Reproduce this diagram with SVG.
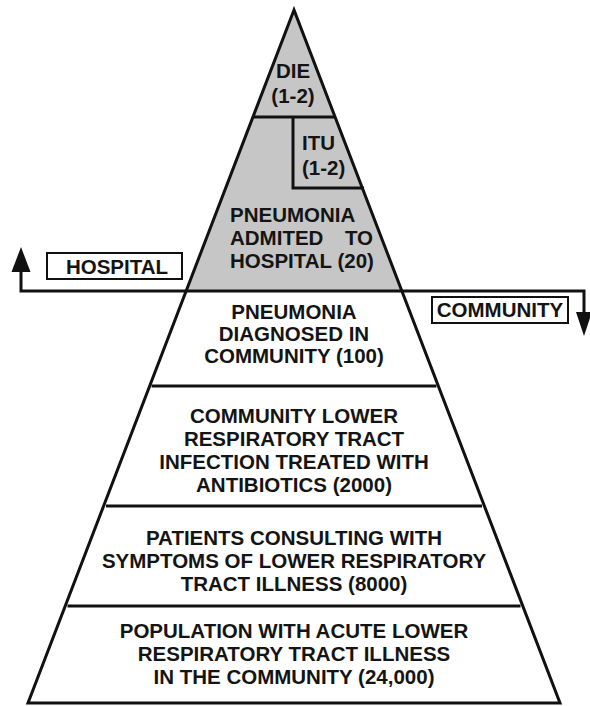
<svg xmlns="http://www.w3.org/2000/svg" width="590" height="706" viewBox="0 0 590 706">
<defs>
<style>
.t{font-family:"Liberation Sans",Arial,sans-serif;font-weight:bold;font-size:20.5px;fill:#141414;text-anchor:middle}
.l{text-anchor:start}
.e{text-anchor:end}
.ln{stroke:#111;stroke-width:3;fill:none}
.box{stroke:#111;stroke-width:2;fill:#fff}
.ah{fill:#111;stroke:none}
</style>
</defs>
<rect width="590" height="706" fill="#fff"/>
<g id="hospital-level">
<polygon points="294,10 187.2,291 400.8,291" fill="#c6c6c6"/>
</g>
<g id="die">
<line class="ln" x1="252" y1="117" x2="336" y2="117"/>
<text class="t" x="293" y="78">DIE</text>
<text class="t" x="293" y="103">(1-2)</text>
</g>
<g id="itu">
<polyline class="ln" points="293,117 293,188 364,188"/>
<text class="t l" x="302" y="150">ITU</text>
<text class="t l" x="302" y="175">(1-2)</text>
</g>
<g id="pneumonia-admitted">
<text class="t l" x="230" y="222">PNEUMONIA</text>
<text class="t l" x="230" y="245">ADMITED</text>
<text class="t e" x="373" y="245">TO</text>
<text class="t l" x="230" y="268">HOSPITAL (20)</text>
</g>
<g id="pneumonia-community">
<line class="ln" x1="151.6" y1="386" x2="436.4" y2="386"/>
<text class="t" x="294" y="319">PNEUMONIA</text>
<text class="t" x="294" y="341">DIAGNOSED IN</text>
<text class="t" x="294" y="363">COMMUNITY (100)</text>
</g>
<g id="lrti-antibiotics">
<line class="ln" x1="106" y1="506" x2="482" y2="506"/>
<text class="t" x="294" y="423">COMMUNITY LOWER</text>
<text class="t" x="294" y="446">RESPIRATORY TRACT</text>
<text class="t" x="294" y="469">INFECTION TREATED WITH</text>
<text class="t" x="294" y="492">ANTIBIOTICS (2000)</text>
</g>
<g id="patients-consulting">
<line class="ln" x1="67.5" y1="606" x2="520.5" y2="606"/>
<text class="t" x="294" y="545">PATIENTS CONSULTING WITH</text>
<text class="t" x="294" y="568">SYMPTOMS OF LOWER RESPIRATORY</text>
<text class="t" x="294" y="591">TRACT ILLNESS (8000)</text>
</g>
<g id="population">
<text class="t" x="294" y="638">POPULATION WITH ACUTE LOWER</text>
<text class="t" x="294" y="661">RESPIRATORY TRACT ILLNESS</text>
<text class="t" x="294" y="684">IN THE COMMUNITY (24,000)</text>
</g>
<g id="pyramid-outline">
<polygon class="ln" points="294,10 28,703 560,703" stroke-linejoin="miter"/>
</g>
<g id="connectors">
<polyline class="ln" points="21,270 21,291 584,291 584,315"/>
<polygon class="ah" points="21,247 11.5,272 30.5,272"/>
<polygon class="ah" points="584,336 576,312 592,312"/>
</g>
<g id="label-hospital">
<rect class="box" x="47" y="253" width="135" height="26"/>
<text class="t" x="117" y="274">HOSPITAL</text>
</g>
<g id="label-community">
<rect class="box" x="432" y="297" width="136" height="26"/>
<text class="t" x="500" y="317">COMMUNITY</text>
</g>
</svg>
